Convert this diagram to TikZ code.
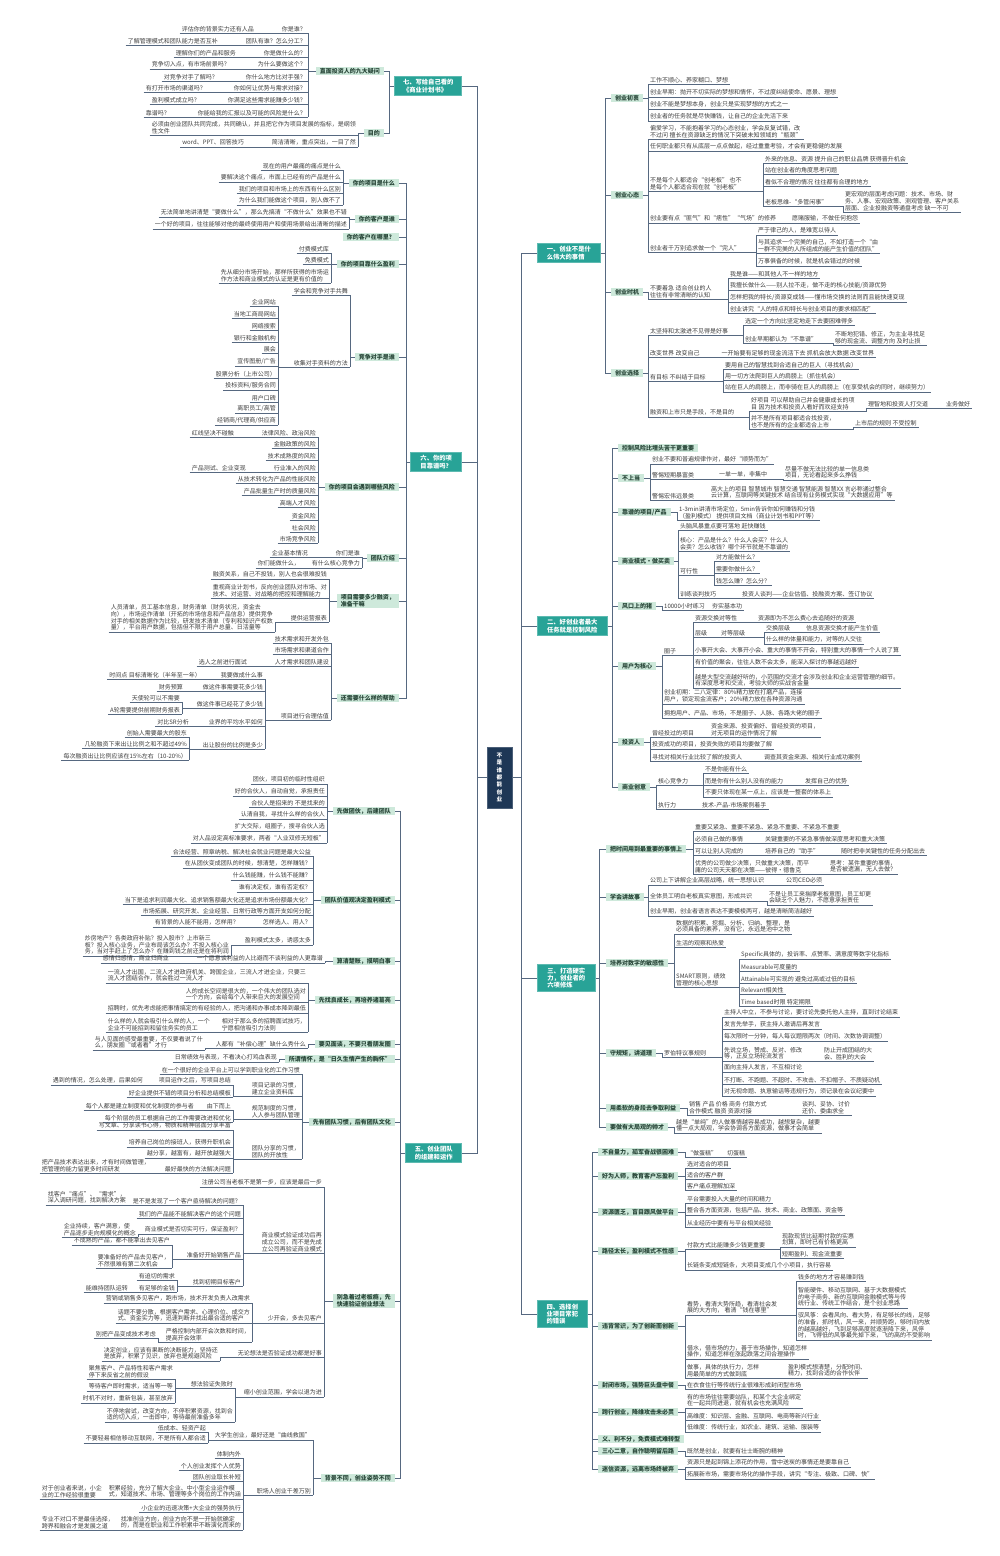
\documentclass[tikz,border=0pt]{standalone}
\usepackage{fontspec}
\setmainfont{Noto Sans CJK SC}
\definecolor{wire}{RGB}{86,104,128}
\definecolor{leafink}{RGB}{62,62,62}
\definecolor{mint}{RGB}{206,233,219}
\definecolor{mintink}{RGB}{40,70,56}
\definecolor{mainteal}{RGB}{40,163,151}
\definecolor{rootblue}{RGB}{30,55,86}
\newcommand{\leaffs}{\fontsize{6}{6.9}\selectfont}
\newcommand{\tagfs}{\fontsize{6}{7}\selectfont\bfseries}
\newcommand{\mainfs}{\fontsize{6.3}{7.3}\selectfont\bfseries}
\newcommand{\rootfs}{\fontsize{5.6}{7.4}\selectfont\bfseries}
\tikzset{link/.style={draw=wire,line width=0.8pt},
         leaf/.style={font=\leaffs,text=leafink,inner xsep=2pt,inner ysep=1.2pt,align=left,
           append after command={(\tikzlastnode.south west) edge[link] (\tikzlastnode.south east)}},
         rleaf/.style={leaf,anchor=south west},
         lleaf/.style={leaf,anchor=south east},
         tag/.style={fill=mint,text=mintink,font=\tagfs,inner xsep=4pt,inner ysep=1pt,align=left},
         rtag/.style={tag,anchor=west},
         ltag/.style={tag,anchor=east},
         mainbox/.style={fill=mainteal,draw=mainteal!75!white,line width=0.6pt,text=white,font=\mainfs,
           inner xsep=3pt,inner ysep=3pt,align=left},
         rmain/.style={mainbox,anchor=west},
         lmain/.style={mainbox,anchor=east},
         rootbox/.style={fill=rootblue,draw=rootblue!80!white,text=white,font=\rootfs,align=center,
           minimum width=25pt,minimum height=61pt,inner sep=1pt}}

\begin{document}
\begin{tikzpicture}[x=1pt,y=-1pt]
  \fill[white] (0,0) rectangle (1000,1556);
  \useasboundingbox (0,0) rectangle (1000,1556);

  \node[rootbox] (root) at (499.5,777.5) {不\\是\\谁\\都\\能\\创\\业};

  \node[rmain,minimum width=63pt] (a) at (537,253) {一、创业不是什\\么伟大的事情};
  \node[rmain,minimum width=70pt] (b) at (537,626) {二、好创业者最大\\任务就是控制风险};
  \node[rmain,minimum width=58pt] (c) at (537,978) {三、打造硬实\\力，创业者的\\六项修炼};
  \node[rmain,minimum width=50pt] (d) at (537,1314) {四、选择创\\业项目常犯\\的错误};
  \node[lmain,minimum width=67pt] (g) at (462,86) {七、写给自己看的\\《商业计划书》};
  \node[lmain,minimum width=51pt] (f) at (462,462) {六、你的项\\目靠谱吗？};
  \node[lmain,minimum width=56pt] (e) at (462,1153) {五、创业团队\\的组建和运作};

  \draw[link] (root.east) -- ++(9,0) |- (a.west) (root.east) -- ++(9,0) |- (b.west)
              (root.east) -- ++(9,0) |- (c.west) (root.east) -- ++(9,0) |- (d.west);
  \draw[link] (root.west) -- ++(-9,0) |- (g.east) (root.west) -- ++(-9,0) |- (f.east)
              (root.west) -- ++(-9,0) |- (e.east);

  \node[rtag] (a1) at (611,98) {创业初衷};
  \node[rtag] (a2) at (611,195) {创业心态};
  \node[rtag] (a3) at (611,292) {创业时机};
  \node[rtag] (a4) at (611,373) {创业选择};
  \draw[link] (a.east) -- ++(5,0) |- (a1.west) (a.east) -- ++(5,0) |- (a2.west)
              (a.east) -- ++(5,0) |- (a3.west) (a.east) -- ++(5,0) |- (a4.west);

  \node[rleaf] (a11) at (648,84) {工作不顺心、养家糊口、梦想};
  \node[rleaf] (a12) at (648,97) {创业早期：抛开不切实际的梦想和情怀，不过度纠结使命、愿景、理想};
  \node[rleaf] (a13) at (648,109) {创业不能是梦想本身，创业只是实现梦想的方式之一};
  \node[rleaf] (a14) at (648,121) {创业者的任务就是尽快赚钱，让自己的企业先活下来};
  \draw[link] (a1.east) -| (a11.south west) (a1.east) -| (a12.south west)
              (a1.east) -| (a13.south west) (a1.east) -| (a14.south west);

  \node[rleaf] (a21) at (648,139) {偏爱学习，不能抱着学习的心态创业，学会反复试错，改\\不过问 擅长在资源缺乏的情况下突破未知领域的“瓶颈”};
  \node[rleaf] (a22) at (648,151) {任何职业都只有从底层一点点做起，经过重重考验，才会有更稳健的发展};
  \node[rleaf] (a23) at (648,191) {不是每个人都适合“创老板” 也不\\是每个人都适合现在就“创老板”};
  \node[rleaf] (a231) at (763,163) {外来的信息、资源 提升自己的职业品牌 获得晋升机会};
  \node[rleaf] (a232) at (763,174) {站在创业者的角度思考问题};
  \node[rleaf] (a233) at (763,186) {看似不合理的情况 往往都有合理的地方};
  \node[rleaf] (a234) at (763,206) {老板思维-“多管闲事”};
  \node[rleaf] (a2341) at (843,212) {更宏观的层面考虑问题：技术、市场、财\\务、人事、宏观政策、测观管理、客户关系\\层面、企业投融资等通盘考虑 缺一不可};
  \node[rleaf] (a24) at (648,223) {创业要有点“匪气”和“痞性”“气场”的修养\hspace{16pt}愿赌服输，不做任何抱怨};
  \node[rleaf] (a25) at (648,252) {创业者千万别追求做一个“完人”};
  \node[rleaf] (a251) at (756,235) {严于律己的人，是难宽以待人};
  \node[rleaf] (a252) at (756,253) {与其追求一个完美的自己，不如打造一个“由\\一群不完美的人所组成的能产生价值的团队”};
  \node[rleaf] (a253) at (756,266) {万事俱备的时候，就是机会错过的时候};
  \draw[link] (a2.east) -| (a21.south west) (a2.east) -| (a22.south west) (a2.east) -| (a23.south west)
              (a2.east) -| (a24.south west) (a2.east) -| (a25.south west);
  \draw[link] (a23.south east) -| (a231.south west) (a23.south east) -| (a232.south west)
              (a23.south east) -| (a233.south west) (a23.south east) -| (a234.south west);
  \draw[link] (a234.south east) -| (a2341.south west);
  \draw[link] (a25.south east) -| (a251.south west) (a25.south east) -| (a252.south west)
              (a25.south east) -| (a253.south west);

  \node[rleaf] (a31) at (648,299) {不要着急 适合创业的人\\往往有非常清晰的认知};
  \node[rleaf] (a311) at (728,278) {我是谁——和其他人不一样的地方};
  \node[rleaf] (a312) at (728,290) {我擅长做什么——别人拉不走，做不走的核心技能/资源优势};
  \node[rleaf] (a313) at (728,302) {怎样把我的特长/资源变成钱——懂市场交换的法则而且能快速变现};
  \node[rleaf] (a314) at (728,313) {创业讲究“人的特点和特长与创业项目的要求相匹配”};
  \draw[link] (a3.east) -| (a31.south west);
  \draw[link] (a31.south east) -| (a311.south west) (a31.south east) -| (a312.south west)
              (a31.south east) -| (a313.south west) (a31.south east) -| (a314.south west);

  \node[rleaf] (a41) at (648,335) {太坚持和太激进不见得是好事};
  \node[rleaf] (a411) at (743,325) {选定一个方向比坚定地走下去要困难得多};
  \node[rleaf] (a412) at (743,343) {创业早期都认为“不靠谱”};
  \node[rleaf] (a4121) at (833,345) {不断地犯错、修正，为主业寻找足\\够的现金流、调整方向 及时止损};
  \node[rleaf] (a42) at (648,357) {改变世界 改变自己\hspace{22pt}一开始要有足够的现金流活下去 抓机会放大数据 改变世界};
  \node[rleaf] (a43) at (648,381) {有目标 不纠结于目标};
  \node[rleaf] (a431) at (723,369) {要用自己的智慧找到合适自己的巨人（寻找机会）};
  \node[rleaf] (a432) at (723,380) {用一切方法爬到巨人的肩膀上（抓住机会）};
  \node[rleaf] (a433) at (723,392) {站在巨人的肩膀上，而非骑在巨人的肩膀上（在享受机会的同时，继续努力）};
  \node[rleaf] (a44) at (648,417) {融资和上市只是手段，不是目的};
  \node[rleaf] (a441) at (749,411) {好项目 可以帮助自己并会健康成长的项\\目 因为技术和投资人看好而欢迎支持};
  \node[rleaf] (a4411) at (866,408) {理智地和投资人打交道\hspace{18pt}业务做好};
  \node[rleaf] (a442) at (749,429) {并不是所有项目都适合找投资，\\也不是所有的企业都适合上市};
  \node[rleaf] (a4421) at (853,427) {上市后的规则 不受控制};
  \draw[link] (a4.east) -| (a41.south west) (a4.east) -| (a42.south west)
              (a4.east) -| (a43.south west) (a4.east) -| (a44.south west);
  \draw[link] (a41.south east) -| (a411.south west) (a41.south east) -| (a412.south west);
  \draw[link] (a412.south east) -| (a4121.south west);
  \draw[link] (a43.south east) -| (a431.south west) (a43.south east) -| (a432.south west)
              (a43.south east) -| (a433.south west);
  \draw[link] (a44.south east) -| (a441.south west) (a44.south east) -| (a442.south west);
  \draw[link] (a441.south east) -| (a4411.south west) (a442.south east) -| (a4421.south west);

  \node[rtag] (b1) at (618,448) {控制风险比埋头苦干更重要};
  \node[rtag] (b2) at (618,478) {不上当};
  \node[rtag] (b3) at (618,512) {靠谱的项目/产品};
  \node[rtag] (b4) at (618,561) {商业模式·做买卖};
  \node[rtag] (b5) at (618,606) {风口上的猪};
  \node[rtag] (b6) at (618,666) {用户为核心};
  \node[rtag] (b7) at (618,742) {投资人};
  \node[rtag] (b8) at (618,787) {商业创意};
  \draw[link] (b.east) -- ++(5,0) |- (b1.west) (b.east) -- ++(5,0) |- (b2.west)
              (b.east) -- ++(5,0) |- (b3.west) (b.east) -- ++(5,0) |- (b4.west)
              (b.east) -- ++(5,0) |- (b5.west) (b.east) -- ++(5,0) |- (b6.west)
              (b.east) -- ++(5,0) |- (b7.west) (b.east) -- ++(5,0) |- (b8.west);

  \node[rleaf] (b21) at (650,464) {创业不要和普遍规律作对，最好“顺势而为”};
  \node[rleaf] (b22) at (650,479) {警惕短期暴富类};
  \node[rleaf] (b221) at (717,479) {一单一单，非集中};
  \node[rleaf] (b2211) at (783,480) {尽量不做无法比较的单一信息类\\项目，无论看起来多么挣钱};
  \node[rleaf] (b23) at (650,500) {警惕宏伟远景类};
  \node[rleaf] (b231) at (709,500) {高大上的项目 智慧城市 智慧交通 智慧能源 智慧XX 言必称通过整合\\云计算，互联网等关键技术 结合现有业务模式实现“大数据应用”等};
  \draw[link] (b2.east) -| (b21.south west) (b2.east) -| (b22.south west) (b2.east) -| (b23.south west);
  \draw[link] (b22.south east) -- (b221.south west) (b221.south east) -| (b2211.south west)
              (b23.south east) -- (b231.south west);

  \node[rleaf] (b31) at (677,520) {1-3min讲清市场定位，5min告诉你如何赚钱和分钱\\（盈利模式） 提供项目文档（商业计划书和PPT等）};
  \draw[link] (b3.east) -| (b31.south west);

  \node[rleaf] (b41) at (678,530) {头脑风暴重点要可落地 赶快赚钱};
  \node[rleaf] (b42) at (678,551) {核心：产品是什么？什么人会买？什么人\\会卖？怎么收钱？哪个环节就是不靠谱的};
  \node[rleaf] (b43) at (678,575) {可行性};
  \node[rleaf] (b431) at (714,561) {对方能做什么？};
  \node[rleaf] (b432) at (714,573) {需要你做什么？};
  \node[rleaf] (b433) at (714,585) {钱怎么赚？怎么分？};
  \node[rleaf] (b44) at (678,598) {训练谈判技巧};
  \node[rleaf] (b441) at (740,598) {投资人谈判——企业估值、投融资方案、签订协议};
  \draw[link] (b4.east) -| (b41.south west) (b4.east) -| (b42.south west)
              (b4.east) -| (b43.south west) (b4.east) -| (b44.south west);
  \draw[link] (b43.south east) -| (b431.south west) (b43.south east) -| (b432.south west)
              (b43.south east) -| (b433.south west);
  \draw[link] (b44.south east) -- (b441.south west);

  \node[rleaf] (b51) at (662,610) {10000小时练习};
  \node[rleaf] (b511) at (710,610) {夯实基本功};
  \draw[link] (b5.east) -| (b51.south west) (b51.south east) -- (b511.south west);

  \node[rleaf] (b61) at (662,655) {圈子};
  \node[rleaf] (b611) at (693,622) {资源交换对等性};
  \node[rleaf] (b6111) at (756,622) {资源即为不怎么费心去追随好的资源};
  \node[rleaf] (b612) at (693,637) {层级\hspace{14pt}对等层级};
  \node[rleaf] (b6121) at (764,632) {交换层级\hspace{16pt}信息资源交换才能产生价值};
  \node[rleaf] (b6122) at (764,644) {什么样的体量和能力，对等的人交往};
  \node[rleaf] (b613) at (693,655) {小事开大会、大事开小会、重大的事情不开会，特别重大的事情一个人说了算};
  \node[rleaf] (b614) at (693,667) {有价值的聚会，往往人数不会太多，能深入探讨的事越远越好};
  \node[rleaf] (b615) at (693,688) {越是大型交流越好听的，小范围的交流才会涉及创业和企业运营管理的细节。\\有深度思考和交流，考验大师的实战含金量};
  \node[rleaf] (b62) at (662,704) {创业初期：二八定律：80\%精力放在打磨产品，连接\\用户，锁定现金流客户；20\%精力放在各种资源沟通};
  \node[rleaf] (b63) at (662,718) {拥抱用户、产品、市场，不是圈子、人脉、各路大佬的圈子};
  \draw[link] (b6.east) -| (b61.south west) (b6.east) -| (b62.south west) (b6.east) -| (b63.south west);
  \draw[link] (b61.south east) -| (b611.south west) (b61.south east) -| (b612.south west)
              (b61.south east) -| (b613.south west) (b61.south east) -| (b614.south west)
              (b61.south east) -| (b615.south west);
  \draw[link] (b611.south east) -- (b6111.south west);
  \draw[link] (b612.south east) -| (b6121.south west) (b612.south east) -| (b6122.south west);

  \node[rleaf] (b71) at (650,737) {曾经投过的项目};
  \node[rleaf] (b711) at (709,737) {资金来源、投资偏好、曾经投资的项目，\\对无项目的运作情况了解};
  \node[rleaf] (b72) at (650,749) {投资成功的项目，投资失败的项目均要做了解};
  \node[rleaf] (b73) at (650,761) {寻找对相关行业比较了解的投资人\hspace{22pt}调查其资金来源、相关行业成功案例};
  \draw[link] (b7.east) -| (b71.south west) (b7.east) -| (b72.south west) (b7.east) -| (b73.south west);
  \draw[link] (b71.south east) -- (b711.south west);

  \node[rleaf] (b81) at (656,785) {核心竞争力};
  \node[rleaf] (b811) at (703,773) {不是你能有什么};
  \node[rleaf] (b812) at (703,785) {而是你有什么别人没有的能力\hspace{22pt}发挥自己的优势};
  \node[rleaf] (b813) at (703,797) {不要只体现在某一点上，应该是一整套的体系上};
  \node[rleaf] (b82) at (656,809) {执行力\hspace{26pt}技术-产品-市场案例着手};
  \draw[link] (b8.east) -| (b81.south west) (b8.east) -| (b82.south west);
  \draw[link] (b81.south east) -| (b811.south west) (b81.south east) -| (b812.south west)
              (b81.south east) -| (b813.south west);

  \node[rtag] (c1) at (606,849) {把时间用到最重要的事情上};
  \node[rtag] (c2) at (606,897) {学会讲故事};
  \node[rtag] (c3) at (606,963) {培养对数字的敏感性};
  \node[rtag] (c4) at (606,1053) {守规矩，讲道理};
  \node[rtag] (c5) at (606,1108) {用柔软的身段去争取利益};
  \node[rtag] (c6) at (606,1127) {要做有大局观的帅才};
  \draw[link] (c.east) -- ++(4,0) |- (c1.west) (c.east) -- ++(4,0) |- (c2.west)
              (c.east) -- ++(4,0) |- (c3.west) (c.east) -- ++(4,0) |- (c4.west)
              (c.east) -- ++(4,0) |- (c5.west) (c.east) -- ++(4,0) |- (c6.west);

  \node[rleaf] (c11) at (693,831) {重要又紧急、重要不紧急、紧急不重要、不紧急不重要};
  \node[rleaf] (c12) at (693,843) {必须自己做的事情\hspace{22pt}关键重要的不紧急事情做深度思考和重大决策};
  \node[rleaf] (c13) at (693,855) {可以让别人完成的\hspace{22pt}培养自己的“助手”\hspace{22pt}随时把非关键性的任务分配出去};
  \node[rleaf] (c14) at (693,874) {优秀的公司做少决策，只做重大决策，而平\\庸的公司天天都在决策——彼得·德鲁克};
  \node[rleaf] (c141) at (828,874) {思考：某件重要的事情，\\是否被遗漏，无人去做？};
  \draw[link] (c1.east) -| (c11.south west) (c1.east) -| (c12.south west)
              (c1.east) -| (c13.south west) (c1.east) -| (c14.south west);
  \draw[link] (c14.south east) -- (c141.south west);

  \node[rleaf] (c21) at (648,885) {公司上下讲解企业高层战略，统一思想认识\hspace{22pt}公司CEO必须};
  \node[rleaf] (c22) at (648,901) {全体员工明白老板真实意图，形成共识};
  \node[rleaf] (c221) at (767,905) {不是让员工来揣摩老板意图，员工却更\\会缺乏个人魅力，不愿意承担责任};
  \node[rleaf] (c23) at (648,916) {创业早期，创业者语言表达不要模棱两可，越是清晰简洁越好};
  \draw[link] (c2.east) -| (c21.south west) (c2.east) -| (c22.south west) (c2.east) -| (c23.south west);
  \draw[link] (c22.south east) -| (c221.south west);

  \node[rleaf] (c31) at (674,934) {数据的积累、挖掘、分析、归纳、整理，是\\必须具备的素养，没有它，永远是池中之物};
  \node[rleaf] (c32) at (674,947) {生活的观察和热爱};
  \node[rleaf] (c33) at (674,987) {SMART原则，绩效\\管理的核心思想};
  \node[rleaf] (c331) at (739,959) {Specific具体的，投诉率、点赞率、满意度等数字化指标};
  \node[rleaf] (c332) at (739,971) {Measurable可度量的};
  \node[rleaf] (c333) at (739,983) {Attainable可实现的 避免过高或过低的目标};
  \node[rleaf] (c334) at (739,994) {Relevant相关性};
  \node[rleaf] (c335) at (739,1006) {Time based时限 特定期限};
  \draw[link] (c3.east) -| (c31.south west) (c3.east) -| (c32.south west) (c3.east) -| (c33.south west);
  \draw[link] (c33.south east) -| (c331.south west) (c33.south east) -| (c332.south west)
              (c33.south east) -| (c333.south west) (c33.south east) -| (c334.south west)
              (c33.south east) -| (c335.south west);

  \node[rleaf] (c41) at (662,1057) {罗伯特议事规则};
  \node[rleaf] (c411) at (722,1017) {主持人中立，不参与讨论，要讨论先委托他人主持，直到讨论结束};
  \node[rleaf] (c412) at (722,1029) {发言先举手，获主持人邀请后再发言};
  \node[rleaf] (c413) at (722,1041) {每次限时一分钟，每人每议题限两次（时间、次数协调调整）};
  \node[rleaf] (c414) at (722,1061) {先说立场，赞成、反对、修改\\等，正反立场轮流发言};
  \node[rleaf] (c4141) at (822,1061) {防止开成团结的大\\会、胜利的大会};
  \node[rleaf] (c415) at (722,1072) {面向主持人发言，不互相讨论};
  \node[rleaf] (c416) at (722,1084) {不打断、不跑题、不超时、不攻击、不扣帽子、不质疑动机};
  \node[rleaf] (c417) at (722,1096) {对无视命题、执意输话等违规行为，须记录在会议纪要中};
  \draw[link] (c4.east) -| (c41.south west);
  \draw[link] (c41.south east) -| (c411.south west) (c41.south east) -| (c412.south west)
              (c41.south east) -| (c413.south west) (c41.south east) -| (c414.south west)
              (c41.south east) -| (c415.south west) (c41.south east) -| (c416.south west)
              (c41.south east) -| (c417.south west);
  \draw[link] (c414.south east) -- (c4141.south west);

  \node[rleaf] (c51) at (687,1115) {销售 产品 价格 商务 付款方式\\合作模式 融资 资源对接};
  \node[rleaf] (c511) at (800,1115) {谈判、妥协、讨价\\还价、委曲求全};
  \node[rleaf] (c61) at (674,1133) {越是“单纯”的人做事情越容易成功，越想复杂，越要\\懂一点大局观，学会协调各方面资源，做事才会简单};
  \draw[link] (c5.east) -| (c51.south west) (c51.south east) -- (c511.south west);
  \draw[link] (c6.east) -| (c61.south west);

  \node[rtag] (d1) at (598,1152) {不自量力，孤军奋战很困难};
  \node[rtag] (d2) at (598,1176) {好为人师，教育客户忘盈利};
  \node[rtag] (d3) at (598,1212) {资源匮乏，盲目跟风做平台};
  \node[rtag] (d4) at (598,1251) {路径太长，盈利模式不性感};
  \node[rtag] (d5) at (598,1326) {违背常识，为了创新而创新};
  \node[rtag] (d6) at (598,1385) {封闭市场，强势巨头盘中餐};
  \node[rtag] (d7) at (598,1412) {跨行创业，降维攻击未必灵};
  \node[rtag] (d8) at (598,1439) {义、利不分，免费模式难转型};
  \node[rtag] (d9) at (598,1451) {三心二意，自作聪明留后路};
  \node[rtag] (d10) at (598,1469) {迷信资源，远离市场终被弃};
  \draw[link] (d.east) -- ++(5,0) |- (d1.west) (d.east) -- ++(5,0) |- (d2.west)
              (d.east) -- ++(5,0) |- (d3.west) (d.east) -- ++(5,0) |- (d4.west)
              (d.east) -- ++(5,0) |- (d5.west) (d.east) -- ++(5,0) |- (d6.west)
              (d.east) -- ++(5,0) |- (d7.west) (d.east) -- ++(5,0) |- (d8.west)
              (d.east) -- ++(5,0) |- (d9.west) (d.east) -- ++(5,0) |- (d10.west);

  \node[rleaf] (d11) at (685,1157) {“做蛋糕”\hspace{10pt}切蛋糕};
  \node[rleaf] (d21) at (685,1168) {选对适合的项目};
  \node[rleaf] (d22) at (685,1179) {适合的客户群};
  \node[rleaf] (d23) at (685,1190) {客户痛点理解加深};
  \node[rleaf] (d31) at (685,1203) {平台需要投入大量的时间和精力};
  \node[rleaf] (d32) at (685,1215) {整合各方面资源，包括产品、技术、商业、政策面、资金等};
  \node[rleaf] (d33) at (685,1227) {从业经历中要有与平台相关经验};
  \node[rleaf] (d41) at (685,1249) {付款方式比能赚多少钱更重要};
  \node[rleaf] (d411) at (780,1247) {现款现货比延期付款的实惠\\划算，即时已有价格更高};
  \node[rleaf] (d412) at (780,1258) {短期盈利、现金流重要};
  \node[rleaf] (d42) at (685,1270) {长链条变成短链条，大项目变成几个小项目，执行容易};
  \draw[link] (d1.east) -| (d11.south west);
  \draw[link] (d2.east) -| (d21.south west) (d2.east) -| (d22.south west) (d2.east) -| (d23.south west);
  \draw[link] (d3.east) -| (d31.south west) (d3.east) -| (d32.south west) (d3.east) -| (d33.south west);
  \draw[link] (d4.east) -| (d41.south west) (d4.east) -| (d42.south west);
  \draw[link] (d41.south east) -| (d411.south west) (d41.south east) -| (d412.south west);

  \node[rleaf] (d51) at (685,1315) {看势，看清大势所趋，看清社会发\\展的大方向， 看清“钱在哪里”};
  \node[rleaf] (d511) at (796,1281) {钱多的地方才容易赚到钱};
  \node[rleaf] (d512) at (796,1308) {智能硬件、移动互联网、基于大数据模式\\的电子商务、新的互联网金融模式等与传\\统行业、传统工作结合，是个创业思路};
  \node[rleaf] (d513) at (796,1340) {驭风筝：会看风向、看大势，有足够长的线，足够\\的准备，抓时机，风一来，并顺势跑，够时间内放\\的越高越好，飞到足够高度就逐渐降下来，风停\\时，飞得低的风筝最先掉下来，飞的高的不受影响};
  \node[rleaf] (d52) at (685,1359) {借水，借市场的力，善于市场操作，知道怎样\\操作，知道怎样在涨起跌落之间合理操作};
  \node[rleaf] (d53) at (685,1378) {做事，具体的执行力，怎样\\用最简单的方式做到底};
  \node[rleaf] (d531) at (786,1378) {盈利模式想清楚，分配时间、\\精力，找到合适的合作伙伴};
  \draw[link] (d5.east) -| (d51.south west) (d5.east) -| (d52.south west) (d5.east) -| (d53.south west);
  \draw[link] (d51.south east) -| (d511.south west) (d51.south east) -| (d512.south west)
              (d51.south east) -| (d513.south west);
  \draw[link] (d53.south east) -- (d531.south west);

  \node[rleaf] (d61) at (685,1389) {在衣食住行等传统行业很难形成封闭型市场};
  \node[rleaf] (d71) at (685,1408) {有的市场往往需要站队，和某个大企业绑定\\在一起共同进退，就有机会也充满风险};
  \node[rleaf] (d72) at (685,1420) {高维度：知识层、金融、互联网、电商等新兴行业};
  \node[rleaf] (d73) at (685,1432) {低维度：传统行业，如农业、建筑、运输、服装等};
  \node[rleaf] (d91) at (685,1456) {既然是创业，就要有壮士断腕的精神};
  \node[rleaf] (d101) at (685,1467) {资源只是起到锦上添花的作用，雪中送炭的事情还是要靠自己};
  \node[rleaf] (d102) at (685,1479) {拓展新市场，需要市场化的操作手段，讲究“专注、极致、口碑、快”};
  \draw[link] (d6.east) -| (d61.south west);
  \draw[link] (d7.east) -| (d71.south west) (d7.east) -| (d72.south west) (d7.east) -| (d73.south west);
  \draw[link] (d9.east) -| (d91.south west);
  \draw[link] (d10.east) -| (d101.south west) (d10.east) -| (d102.south west);

  \node[ltag] (g1) at (384,71) {直面投资人的九大疑问};
  \node[ltag] (g2) at (384,133) {目的};
  \draw[link] (g.west) -- ++(-5,0) |- (g1.east) (g.west) -- ++(-5,0) |- (g2.east);
  \node[lleaf] (g11) at (308,33) {评估你的背景实力还有人品\hspace{28pt}你是谁？};
  \node[lleaf] (g12) at (308,45) {了解管理模式和团队能力是否互补\hspace{28pt}团队有谁？怎么分工？};
  \node[lleaf] (g13) at (308,57) {理解你们的产品和服务\hspace{28pt}你是做什么的？};
  \node[lleaf] (g14) at (308,69) {竞争切入点，有市场前景吗？\hspace{28pt}为什么要做这个？};
  \node[lleaf] (g15) at (308,81) {对竞争对手了解吗？\hspace{28pt}你什么地方比对手强？};
  \node[lleaf] (g16) at (308,92) {有打开市场的渠道吗？\hspace{28pt}你如何让优势与需求对接？};
  \node[lleaf] (g17) at (308,104) {盈利模式成立吗？\hspace{28pt}你满足这些需求能赚多少钱？};
  \node[lleaf] (g18) at (308,117) {靠谱吗？\hspace{28pt}你能给我的汇报以及可能的风险是什么？};
  \node[lleaf] (g21) at (358,135) {必须由创业团队共同完成，共同确认，并且把它作为项目发展的指标，是纲领\\性文件};
  \node[lleaf] (g22) at (358,147) {word、PPT、回答技巧\hspace{28pt}简洁清晰，重点突出，一目了然};
  \draw[link] (g1.west) -| (g11.south east) (g1.west) -| (g12.south east) (g1.west) -| (g13.south east)
              (g1.west) -| (g14.south east) (g1.west) -| (g15.south east) (g1.west) -| (g16.south east)
              (g1.west) -| (g17.south east) (g1.west) -| (g18.south east);
  \draw[link] (g2.west) -| (g21.south east) (g2.west) -| (g22.south east);

  \node[ltag] (f1) at (399,183) {你的项目是什么};
  \node[ltag] (f2) at (399,219) {你的客户是谁};
  \node[ltag] (f3) at (399,237) {你的客户在哪里？};
  \node[ltag] (f4) at (399,264) {你的项目靠什么盈利};
  \node[ltag] (f5) at (399,357) {竞争对手是谁};
  \node[ltag] (f6) at (399,487) {你的项目会遇到哪些风险};
  \node[ltag] (f7) at (399,558) {团队介绍};
  \node[ltag] (f8) at (399,601) {项目需要多少融资，\\准备干嘛};
  \node[ltag] (f9) at (399,698) {还需要什么样的帮助};
  \draw[link] (f.west) -- ++(-4,0) |- (f1.east) (f.west) -- ++(-4,0) |- (f2.east)
              (f.west) -- ++(-4,0) |- (f3.east) (f.west) -- ++(-4,0) |- (f4.east)
              (f.west) -- ++(-4,0) |- (f5.east) (f.west) -- ++(-4,0) |- (f6.east)
              (f.west) -- ++(-4,0) |- (f7.east) (f.west) -- ++(-4,0) |- (f8.east)
              (f.west) -- ++(-4,0) |- (f9.east);

  \node[lleaf] (f11) at (343,170) {现在的用户最痛的痛点是什么};
  \node[lleaf] (f12) at (343,182) {要解决这个痛点，市面上已经有的产品是什么};
  \node[lleaf] (f13) at (343,193) {我们的项目和市场上的东西有什么区别};
  \node[lleaf] (f14) at (343,205) {为什么我们能做这个项目，别人做不了};
  \node[lleaf] (f21) at (349,217) {无法简单地讲清楚“要做什么”，那么先搞清“不做什么”效果也不错};
  \node[lleaf] (f22) at (349,229) {一个好的项目，往往能够对他的最终使用用户和使用场景给出清晰的描述};
  \node[lleaf] (f41) at (331,253) {付费模式库};
  \node[lleaf] (f42) at (331,264) {免费模式};
  \node[lleaf] (f43) at (331,283) {先从细分市场开始，那样所获得的市场运\\作方法和商业模式的认证是更有价值的};
  \draw[link] (f1.west) -| (f11.south east) (f1.west) -| (f12.south east)
              (f1.west) -| (f13.south east) (f1.west) -| (f14.south east);
  \draw[link] (f2.west) -| (f21.south east) (f2.west) -| (f22.south east);
  \draw[link] (f4.west) -| (f41.south east) (f4.west) -| (f42.south east) (f4.west) -| (f43.south east);

  \node[lleaf] (f51) at (350,295) {学会和竞争对手共舞};
  \node[lleaf] (f52) at (350,367) {收集对手资料的方法};
  \node[lleaf] (f521) at (278,306) {企业网站};
  \node[lleaf] (f522) at (278,318) {当地工商局网站};
  \node[lleaf] (f523) at (278,330) {网络搜索};
  \node[lleaf] (f524) at (278,342) {银行和金融机构};
  \node[lleaf] (f525) at (278,353) {展会};
  \node[lleaf] (f526) at (278,366) {宣传图册/广告};
  \node[lleaf] (f527) at (278,378) {股票分析（上市公司）};
  \node[lleaf] (f528) at (278,390) {投标资料/服务合同};
  \node[lleaf] (f529) at (278,402) {用户口碑};
  \node[lleaf] (f5210) at (278,413) {离职员工/高管};
  \node[lleaf] (f5211) at (278,425) {经销商/代理商/供应商};
  \draw[link] (f5.west) -| (f51.south east) (f5.west) -| (f52.south east);
  \draw[link] (f52.south west) -| (f521.south east) (f52.south west) -| (f522.south east)
              (f52.south west) -| (f523.south east) (f52.south west) -| (f524.south east)
              (f52.south west) -| (f525.south east) (f52.south west) -| (f526.south east)
              (f52.south west) -| (f527.south east) (f52.south west) -| (f528.south east)
              (f52.south west) -| (f529.south east) (f52.south west) -| (f5210.south east)
              (f52.south west) -| (f5211.south east);

  \node[lleaf] (f61) at (318,437) {红线坚决不碰触\hspace{28pt}法律风险、政治风险};
  \node[lleaf] (f62) at (318,448) {金融政策的风险};
  \node[lleaf] (f63) at (318,460) {技术成熟度的风险};
  \node[lleaf] (f64) at (318,472) {产品测试、企业变现\hspace{28pt}行业准入的风险};
  \node[lleaf] (f65) at (318,483) {从技术转化为产品的性能风险};
  \node[lleaf] (f66) at (318,495) {产品批量生产时的质量风险};
  \node[lleaf] (f67) at (318,507) {高端人才风险};
  \node[lleaf] (f68) at (318,520) {资金风险};
  \node[lleaf] (f69) at (318,532) {社会风险};
  \node[lleaf] (f610) at (318,543) {市场竞争风险};
  \draw[link] (f6.west) -| (f61.south east) (f6.west) -| (f62.south east) (f6.west) -| (f63.south east)
              (f6.west) -| (f64.south east) (f6.west) -| (f65.south east) (f6.west) -| (f66.south east)
              (f6.west) -| (f67.south east) (f6.west) -| (f68.south east) (f6.west) -| (f69.south east)
              (f6.west) -| (f610.south east);

  \node[lleaf] (f71) at (362,557) {企业基本情况\hspace{28pt}你们是谁};
  \node[lleaf] (f72) at (362,568) {你们能做什么，\hspace{12pt}有什么核心竞争力};
  \draw[link] (f7.west) -| (f71.south east) (f7.west) -| (f72.south east);

  \node[lleaf] (f81) at (329,579) {融资关系，自己不投钱，别人也会很难投钱};
  \node[lleaf] (f82) at (329,598) {重视商业计划书，反向创业团队对市场、对\\技术、对运营、对战略的把控和理解能力};
  \node[lleaf] (f83) at (329,622) {提供运营报表};
  \node[lleaf] (f831) at (275,632) {人员清单，员工基本信息，财务清单（财务状况，资金去\\向），市场运作清单（开拓的市场信息和产品信息）提供竞争\\对手的相关数据作为比较，研发技术清单（专利和知识产权数\\量），平台用户数据，包括但不限于用户总量、日活量等};
  \draw[link] (f8.west) -| (f81.south east) (f8.west) -| (f82.south east) (f8.west) -| (f83.south east);
  \draw[link] (f83.south west) -| (f831.south east);

  \node[lleaf] (f91) at (331,643) {技术需求和开发外包};
  \node[lleaf] (f92) at (331,654) {市场需求和渠道合作};
  \node[lleaf] (f93) at (331,666) {选人之前进行面试\hspace{28pt}人才需求和团队建设};
  \node[lleaf] (f94) at (331,720) {项目进行合理估值};
  \node[lleaf] (f941) at (265,679) {时间点 目标清晰化（半年至一年）\hspace{20pt}我要做成什么事};
  \node[lleaf] (f942) at (265,691) {财务预算\hspace{20pt}做这件事需要花多少钱};
  \node[lleaf] (f943) at (265,708) {做这件事已经花了多少钱};
  \node[lleaf] (f9431) at (182,702) {天使轮可以不需要};
  \node[lleaf] (f9432) at (182,714) {A轮需要提供前期财务报表};
  \node[lleaf] (f944) at (265,726) {对比SR分析\hspace{20pt}业界的平均水平如何};
  \node[lleaf] (f945) at (265,749) {出让股份的比例是多少};
  \node[lleaf] (f9451) at (189,737) {创始人需要最大的股东};
  \node[lleaf] (f9452) at (189,748) {几轮融资下来出让比例之和不超过49\%};
  \node[lleaf] (f9453) at (189,760) {每次融资出让比例应该在15\%左右（10-20\%）};
  \draw[link] (f9.west) -| (f91.south east) (f9.west) -| (f92.south east)
              (f9.west) -| (f93.south east) (f9.west) -| (f94.south east);
  \draw[link] (f94.south west) -| (f941.south east) (f94.south west) -| (f942.south east)
              (f94.south west) -| (f943.south east) (f94.south west) -| (f944.south east)
              (f94.south west) -| (f945.south east);
  \draw[link] (f943.south west) -| (f9431.south east) (f943.south west) -| (f9432.south east);
  \draw[link] (f945.south west) -| (f9451.south east) (f945.south west) -| (f9452.south east)
              (f945.south west) -| (f9453.south east);

  \node[ltag] (e1) at (395,811) {先做团伙，后建团队};
  \node[ltag] (e2) at (395,900) {团队价值观决定盈利模式};
  \node[ltag] (e3) at (395,961) {算清楚账，摸明白事};
  \node[ltag] (e4) at (395,1000) {先找良成长，再培养诸葛亮};
  \node[ltag] (e5) at (395,1044) {要见面谈，不要只看朋友圈};
  \node[ltag] (e6) at (395,1059) {所谓情怀，是“日久生情产生的胸怀”};
  \node[ltag] (e7) at (395,1122) {先有团队习惯，后有团队文化};
  \node[ltag] (e8) at (395,1301) {别急着过老板瘾，先\\快速验证创业想法};
  \node[ltag] (e9) at (395,1478) {背景不同，创业姿势不同};
  \draw[link] (e.west) -- ++(-5,0) |- (e1.east) (e.west) -- ++(-5,0) |- (e2.east)
              (e.west) -- ++(-5,0) |- (e3.east) (e.west) -- ++(-5,0) |- (e4.east)
              (e.west) -- ++(-5,0) |- (e5.east) (e.west) -- ++(-5,0) |- (e6.east)
              (e.west) -- ++(-5,0) |- (e7.east) (e.west) -- ++(-5,0) |- (e8.east)
              (e.west) -- ++(-5,0) |- (e9.east);

  \node[lleaf] (e11) at (327,784) {团伙，项目初的临时性组织};
  \node[lleaf] (e12) at (327,796) {好的合伙人，自动自觉，承担责任};
  \node[lleaf] (e13) at (327,807) {合伙人是招来的 不是找来的};
  \node[lleaf] (e14) at (327,819) {认清自我，寻找什么样的合伙人};
  \node[lleaf] (e15) at (327,831) {扩大交际，组圈子，搜寻合伙人选};
  \node[lleaf] (e16) at (327,843) {对人品设定高标准要求，两者“人业双修无短板”};
  \draw[link] (e1.west) -| (e11.south east) (e1.west) -| (e12.south east) (e1.west) -| (e13.south east)
              (e1.west) -| (e14.south east) (e1.west) -| (e15.south east) (e1.west) -| (e16.south east);

  \node[lleaf] (e21) at (313,856) {合法经营、照章纳税、解决社会就业问题是最大公益};
  \node[lleaf] (e22) at (313,868) {在从团伙变成团队的时候，想清楚，怎样赚钱？};
  \node[lleaf] (e23) at (313,880) {什么钱能赚，什么钱不能赚？};
  \node[lleaf] (e24) at (313,892) {谁有决定权，谁有否定权？};
  \node[lleaf] (e25) at (313,904) {当下是追求利润最大化、追求销售额最大化还是追求市场份额最大化？};
  \node[lleaf] (e26) at (313,915) {市场拓展、研究开发、企业经营、日常行政等方面开支如何分配};
  \node[lleaf] (e27) at (313,927) {有背景的人能不能用，怎样用？\hspace{24pt}怎样选人、用人？};
  \node[lleaf] (e28) at (313,945) {盈利模式太多，诱惑太多};
  \node[lleaf] (e281) at (231,956) {炒房地产？各类政府补贴？投入股市？上市新三\\板？投入核心业务，产业布局该怎么办？不投入核心业\\务，当对手赶上了怎么办？在赚到钱之前还是在将利润};
  \draw[link] (e2.west) -| (e21.south east) (e2.west) -| (e22.south east) (e2.west) -| (e23.south east)
              (e2.west) -| (e24.south east) (e2.west) -| (e25.south east) (e2.west) -| (e26.south east)
              (e2.west) -| (e27.south east) (e2.west) -| (e28.south east);
  \draw[link] (e28.south west) -| (e281.south east);

  \node[lleaf] (e31) at (325,963) {感情归感情，商业归商业\hspace{28pt}一个愿意谈利益的人比避而不谈利益的人更靠谱};
  \draw[link] (e3.west) -| (e31.south east);

  \node[lleaf] (e41) at (308,983) {一流人才出国，二流人才进政府机关、跨国企业，三流人才进企业，只要三\\流人才团结合作，就会胜过一流人才};
  \node[lleaf] (e42) at (308,1002) {人的成长空间是很大的，一个伟大的团队选对\\一个方向，会给每个人带来巨大的发展空间};
  \node[lleaf] (e43) at (308,1013) {招聘时，优先考虑能把事情搞定的有经验的人，把沟通和办事成本降到最低};
  \node[lleaf] (e44) at (308,1032) {相对于那么多的招聘面试技巧，\\宁愿相信吸引力法则};
  \node[lleaf] (e441) at (212,1032) {什么样的人就会吸引什么样的人，一个\\企业不可能招到和留住务实的员工};
  \draw[link] (e4.west) -| (e41.south east) (e4.west) -| (e42.south east)
              (e4.west) -| (e43.south east) (e4.west) -| (e44.south east);
  \draw[link] (e44.south west) -- (e441.south east);

  \node[lleaf] (e51) at (308,1048) {人都有“补偿心理”缺什么秀什么};
  \node[lleaf] (e511) at (205,1050) {与人见面的感受最重要，不仅要看说了什\\么，朋友圈“或者看”才行};
  \node[lleaf] (e61) at (279,1062) {日常绩效与表现，不看决心打鸡血表现};
  \draw[link] (e5.west) -| (e51.south east) (e51.south west) -| (e511.south east);
  \draw[link] (e6.west) -| (e61.south east);

  \node[lleaf] (e71) at (302,1074) {在一个很好的企业平台上可以学到职业化的工作习惯};
  \node[lleaf] (e72) at (302,1096) {项目记录的习惯，\\建立企业资料库};
  \node[lleaf] (e721) at (233,1085) {项目运作之后，写项目总结};
  \node[lleaf] (e7211) at (145,1085) {遇到的情况，怎么处理，后果如何};
  \node[lleaf] (e722) at (233,1097) {好企业提供不错的项目分析和总结模板};
  \node[lleaf] (e73) at (302,1119) {规范制度的习惯，\\人人参与团队管理};
  \node[lleaf] (e731) at (233,1110) {由下而上};
  \node[lleaf] (e7311) at (196,1110) {每个人都是建立制度和优化制度的参与者};
  \node[lleaf] (e732) at (233,1122) {每个阶层的员工根据自己的工作需要改进和优化};
  \node[lleaf] (e74) at (302,1159) {团队分享的习惯，\\团队的开放性};
  \node[lleaf] (e741) at (233,1130) {写文章、分享读书心得，物质和精神层面分享丰富};
  \node[lleaf] (e742) at (233,1147) {培养自己岗位的接班人，获得升职机会};
  \node[lleaf] (e743) at (233,1158) {越分享，越富有，越开放越强大};
  \node[lleaf] (e744) at (233,1173) {最好最快的方法解决问题};
  \node[lleaf] (e7441) at (152,1173) {把产品技术表达出来，才有时间做管理，\\把管理的能力留更多时间研发};
  \draw[link] (e7.west) -| (e71.south east) (e7.west) -| (e72.south east)
              (e7.west) -| (e73.south east) (e7.west) -| (e74.south east);
  \draw[link] (e72.south west) -| (e721.south east) (e72.south west) -| (e722.south east);
  \draw[link] (e73.south west) -| (e731.south east) (e73.south west) -| (e732.south east);
  \draw[link] (e74.south west) -| (e741.south east) (e74.south west) -| (e742.south east)
              (e74.south west) -| (e743.south east) (e74.south west) -| (e744.south east);
  \draw[link] (e721.south west) -- (e7211.south east) (e731.south west) -- (e7311.south east)
              (e744.south west) -- (e7441.south east);

  \node[lleaf] (e81) at (324,1187) {注册公司当老板不是第一步，应该是最后一步};
  \node[lleaf] (e82) at (324,1253) {商业模式验证成功后再\\成立公司，而不是先成\\立公司再验证商业模式};
  \node[lleaf] (e821) at (243,1205) {是不是发现了一个客户亟待解决的问题？};
  \node[lleaf] (e8211) at (128,1205) {找客户“痛点”、“需求”，\\深入调研问题，找到解决方案};
  \node[lleaf] (e822) at (243,1218) {我们的产品能不能解决客户的这个问题};
  \node[lleaf] (e823) at (243,1234) {商业模式是否切实可行，保证盈利？};
  \node[lleaf] (e8231) at (138,1237) {企业持续，客户满意，使\\产品逐步走向规模化的概念};
  \node[lleaf] (e824) at (243,1259) {准备好开始销售产品};
  \node[lleaf] (e8241) at (172,1245) {不成熟的产品，都不能拿出去见客户};
  \node[lleaf] (e8242) at (172,1268) {要准备好的产品去见客户，\\不然很难有第二次机会};
  \node[lleaf] (e825) at (243,1286) {找到初期目标客户};
  \node[lleaf] (e8251) at (177,1280) {有迫切的需求};
  \node[lleaf] (e8252) at (177,1292) {有足够的金钱};
  \node[lleaf] (e82521) at (130,1292) {能维持团队运转};
  \draw[link] (e8.west) -| (e81.south east) (e8.west) -| (e82.south east);
  \draw[link] (e82.south west) -| (e821.south east) (e82.south west) -| (e822.south east)
              (e82.south west) -| (e823.south east) (e82.south west) -| (e824.south east)
              (e82.south west) -| (e825.south east);
  \draw[link] (e821.south west) -- (e8211.south east) (e823.south west) -| (e8231.south east);
  \draw[link] (e824.south west) -| (e8241.south east) (e824.south west) -| (e8242.south east);
  \draw[link] (e825.south west) -| (e8251.south east) (e825.south west) -| (e8252.south east);
  \draw[link] (e8252.south west) -- (e82521.south east);

  \node[lleaf] (e83) at (324,1323) {少开会，多去见客户};
  \node[lleaf] (e831) at (252,1303) {营销或销售多见客户，跑市场，技术开发负责人改需求};
  \node[lleaf] (e832) at (252,1323) {话题不要分散，根据客户需求、心理价位、成交方\\式、资金实力等，迅速判断并找出最合适的客户};
  \node[lleaf] (e833) at (252,1342) {严格控制内部开会次数和时间，\\提高开会效率};
  \node[lleaf] (e8331) at (158,1338) {别把产品变成技术考虑};
  \node[lleaf] (e84) at (324,1357) {无论想法是否验证成功都是好事};
  \node[lleaf] (e841) at (220,1361) {决定创业，应该有果断的决断能力，坚持还\\是放弃，积累了见识，放弃也是规避风险};
  \node[lleaf] (e85) at (324,1397) {缩小创业范围，学会以退为进};
  \node[lleaf] (e851) at (235,1388) {想法验证失败时};
  \node[lleaf] (e8511) at (175,1379) {聚焦客户、产品特性和客户需求\\停下来反省之前的假设};
  \node[lleaf] (e8512) at (175,1391) {等待客户即时需求，适当等一等};
  \node[lleaf] (e8513) at (175,1403) {时机不对时，重新包装，甚至放弃};
  \node[lleaf] (e852) at (235,1422) {不停地尝试，改变方向，不停积累资源，找到合\\适的切入点，一击即中，等待最前准备多年};
  \draw[link] (e8.west) -| (e83.south east) (e8.west) -| (e84.south east) (e8.west) -| (e85.south east);
  \draw[link] (e83.south west) -| (e831.south east) (e83.south west) -| (e832.south east)
              (e83.south west) -| (e833.south east);
  \draw[link] (e833.south west) -| (e8331.south east) (e84.south west) -| (e841.south east);
  \draw[link] (e85.south west) -| (e851.south east) (e85.south west) -| (e852.south east);
  \draw[link] (e851.south west) -| (e8511.south east) (e851.south west) -| (e8512.south east)
              (e851.south west) -| (e8513.south east);

  \node[lleaf] (e91) at (313,1440) {大学生创业，最好还是“曲线救国”};
  \node[lleaf] (e911) at (208,1432) {低成本、轻资产起};
  \node[lleaf] (e912) at (208,1443) {不要轻易相信移动互联网，不是所有人都合适};
  \node[lleaf] (e92) at (313,1495) {职场人创业千差万别};
  \node[lleaf] (e921) at (243,1458) {体制内外};
  \node[lleaf] (e922) at (243,1470) {个人创业发挥个人优势};
  \node[lleaf] (e923) at (243,1481) {团队创业取长补短};
  \node[lleaf] (e924) at (243,1499) {积累经验，充分了解大企业、中小型企业运作模\\式，知道技术、市场、管理等多个岗位的工作内涵};
  \node[lleaf] (e9241) at (104,1499) {对于创业者来说，小企\\业的工作经验很重要};
  \node[lleaf] (e925) at (243,1512) {小企业的迅速决策+大企业的强势执行};
  \node[lleaf] (e926) at (243,1530) {找准创业方向，创业方向不是一开始就确定\\的，而是在职业和工作积累中不断演化而来的};
  \node[lleaf] (e9261) at (116,1530) {专业不对口不是最佳选择，\\跨界和融合才是发展之道};
  \draw[link] (e9.west) -| (e91.south east) (e9.west) -| (e92.south east);
  \draw[link] (e91.south west) -| (e911.south east) (e91.south west) -| (e912.south east);
  \draw[link] (e92.south west) -| (e921.south east) (e92.south west) -| (e922.south east)
              (e92.south west) -| (e923.south east) (e92.south west) -| (e924.south east)
              (e92.south west) -| (e925.south east) (e92.south west) -| (e926.south east);
  \draw[link] (e924.south west) -- (e9241.south east) (e926.south west) -- (e9261.south east);
\end{tikzpicture}
\end{document}
